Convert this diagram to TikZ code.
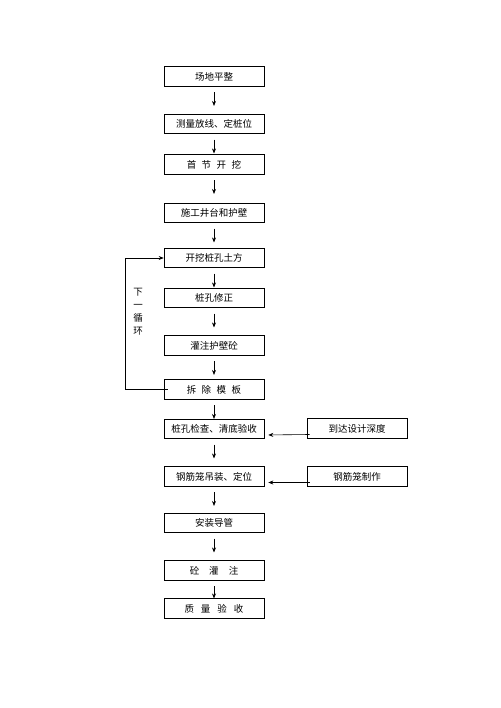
\documentclass[tikz,border=0pt]{standalone}
\usepackage{fontspec}
\setmainfont{Noto Sans CJK SC}
\usetikzlibrary{arrows.meta}
\tikzset{
  box/.style={draw, line width=0.6pt, minimum width=100pt, minimum height=19.5pt, inner sep=0pt, font=\fontsize{9.5}{11}\selectfont},
  arr/.style={line width=0.6pt, -{Stealth[length=5pt,width=4pt]}},
}
\begin{document}
\begin{tikzpicture}[x=1pt,y=-1pt]
\useasboundingbox[fill=white] (0,0) rectangle (500,708);
\node[box] (b1)  at (214,76.5)  {场地平整};
\node[box] (b2)  at (214,124)   {测量放线、定桩位};
\node[box] (b3)  at (214,164.5) {首\hspace{5.5pt}节\hspace{5.5pt}开\hspace{5.5pt}挖};
\node[box] (b4)  at (214,213)   {施工井台和护壁};
\node[box] (b5)  at (214,258)   {开挖桩孔土方};
\node[box] (b6)  at (214,298)   {桩孔修正};
\node[box] (b7)  at (214,345.5) {灌注护壁砼};
\node[box] (b8)  at (214,389.5) {拆\hspace{5.5pt}除\hspace{5.5pt}模\hspace{5.5pt}板};
\node[box] (b9)  at (214,429)   {桩孔检查、清底验收};
\node[box] (b10) at (214,476.5) {钢筋笼吊装、定位};
\node[box] (b11) at (214,523)   {安装导管};
\node[box] (b12) at (214,570.5) {砼\hspace{10pt}灌\hspace{10pt}注};
\node[box] (b13) at (214,608.5) {质\hspace{7pt}量\hspace{7pt}验\hspace{7pt}收};
\node[box] (r1)  at (357,428.5) {到达设计深度};
\node[box] (r2)  at (357,476.5) {钢筋笼制作};
\foreach \a/\b/\s in {b1/b2/8,b2/b3/1,b3/b4/9,b4/b5/5.5,b5/b6/0.5,b6/b7/8,b7/b8/4.5,b8/b9/0,b9/b10/8,b10/b11/7,b11/b12/8,b12/b13/0}
  \draw[arr, shorten <=5.5pt, shorten >=\s pt] (\a.south) -- (\b.north);
\draw[arr, shorten >=4pt] ([xshift=3pt,yshift=-6pt]r1.west) -- ([yshift=-6pt]b9.east);
\draw[arr, shorten >=4pt] ([xshift=3pt,yshift=-6pt]r2.west) -- ([yshift=-6pt]b10.east);
\coordinate (lc) at (125,389.5);
\draw[arr] ([xshift=4pt]b8.west) -- (lc) |- (b5.west);
\node[font=\fontsize{9.5}{13}\selectfont, align=center, inner sep=0pt] (lbl) at (138,312) {下\\一\\循\\环};
\end{tikzpicture}
\end{document}
